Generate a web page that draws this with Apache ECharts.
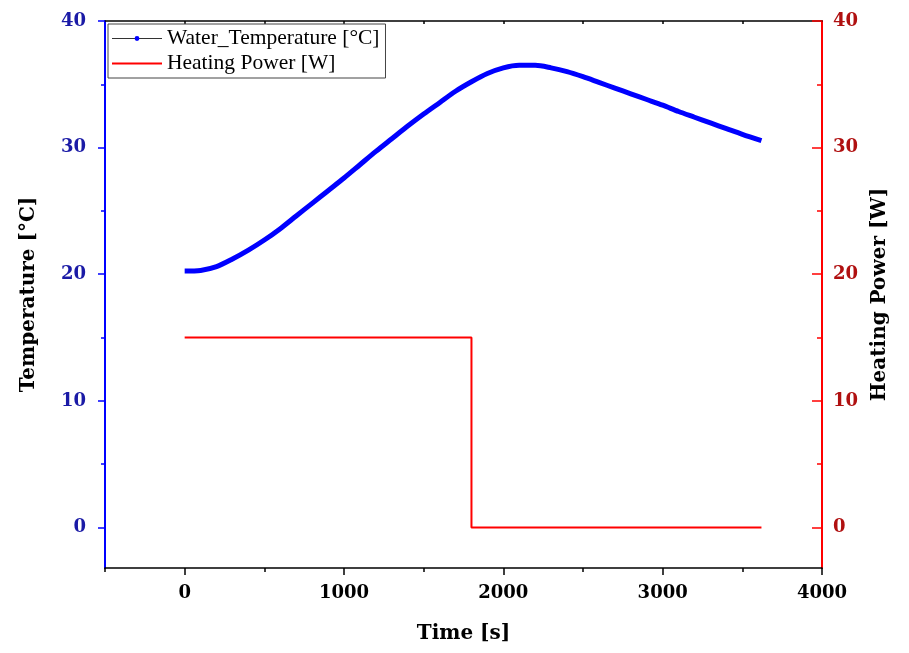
<!DOCTYPE html>
<html><head><meta charset="utf-8">
<script src="https://cdn.jsdelivr.net/npm/echarts@6/dist/echarts.min.js"></script>
<style>html,body{margin:0;padding:0;background:#fff}#c{width:909px;height:653px}</style>
</head><body><div id="c"></div>
<script>
const tempTime = [0,100,200,300,400,500,600,700,800,900,1000,1100,1200,1300,1400,1500,1600,1700,1800,1900,2000,2100,2200,2300,2400,2500,2600,2700,2800,2900,3000,3100,3200,3300,3400,3500,3620];
const tempValue = [20.25,20.3,20.6,21.2,21.9,22.7,23.6,24.6,25.6,26.6,27.6,28.65,29.7,30.7,31.7,32.65,33.55,34.45,35.2,35.85,36.3,36.5,36.5,36.3,36.0,35.6,35.15,34.7,34.25,33.8,33.35,32.85,32.4,31.95,31.5,31.05,30.55];
const powerTime = [0,1800,1800,3620];
const powerValue = [15,15,0,0];
const xMajor = [0,1000,2000,3000,4000];
const xMinor = [-500,500,1500,2500,3500];
const xTop = [0,500,1000,1500,2000,2500,3000,3500];
const yMajor = [0,10,20,30,40];
const yMinor = [5,15,25,35];

const serif = '"Liberation Serif","Times New Roman",serif';
const dserif = '"DejaVu Serif",serif';
const chart = echarts.init(document.getElementById('c'));
const blue = '#0000ff', red = '#ff0000';
const tickFont = {fontFamily: dserif, fontWeight: 'bold', fontSize: 18};
const nameFont = {fontFamily: dserif, fontWeight: 'bold', fontSize: 20, color: '#000'};
const plain = v => String(v);
chart.setOption({
  animation: false,
  grid: {left: 105, right: 87, top: 21, bottom: 85, containLabel: false},
  legend: {
    orient: 'vertical', left: 108, top: 24, right: 'auto', bottom: 'auto',
    itemWidth: 50, itemHeight: 6, itemGap: 2,
    padding: [3, 6, 3, 3],
    borderColor: '#444', borderWidth: 1, backgroundColor: '#fff',
    textStyle: {fontFamily: serif, fontSize: 21.5, color: '#000', lineHeight: 23},
    data: [
      {name: 'Water_Temperature [°C]', lineStyle: {color: '#333', width: 1}, itemStyle: {color: blue}},
      {name: 'Heating Power [W]', lineStyle: {color: red, width: 2}, itemStyle: {opacity: 0}}
    ]
  },
  xAxis: [
    {type: 'value', position: 'bottom', min: -500, max: 4000,
     axisLine: {show: true, onZero: false, lineStyle: {color: '#000', width: 1.5}},
     axisTick: {show: true, customValues: xMajor, length: 7, lineStyle: {color: '#000', width: 1.5}},
     axisLabel: {customValues: xMajor, formatter: plain, margin: 16, color: '#000', ...tickFont},
     splitLine: {show: false},
     name: 'Time [s]', nameLocation: 'middle', nameGap: 56, nameTextStyle: nameFont},
    {type: 'value', position: 'bottom', min: -500, max: 4000,
     axisLine: {show: false, onZero: false},
     axisTick: {show: true, customValues: xMinor, length: 4, lineStyle: {color: '#000', width: 1.5}},
     axisLabel: {show: false}, splitLine: {show: false}},
    {type: 'value', position: 'top', min: -500, max: 4000,
     axisLine: {show: true, onZero: false, lineStyle: {color: '#000', width: 1.5}},
     axisTick: {show: true, inside: true, customValues: xTop, length: 3, lineStyle: {color: '#000', width: 1.5}},
     axisLabel: {show: false}, splitLine: {show: false}}
  ],
  yAxis: [
    {type: 'value', position: 'left', min: -3.2, max: 40,
     axisLine: {show: true, onZero: false, lineStyle: {color: blue, width: 2}},
     axisTick: {show: true, customValues: yMajor, length: 7, lineStyle: {color: blue, width: 1.5}},
     axisLabel: {customValues: yMajor, formatter: plain, margin: 19, color: '#1a1aa6', ...tickFont},
     splitLine: {show: false},
     name: 'Temperature [°C]', nameLocation: 'middle', nameGap: 66, nameRotate: 90, nameTextStyle: nameFont},
    {type: 'value', position: 'left', min: -3.2, max: 40,
     axisLine: {show: false, onZero: false},
     axisTick: {show: true, customValues: yMinor, length: 4, lineStyle: {color: blue, width: 1.5}},
     axisLabel: {show: false}, splitLine: {show: false}},
    {type: 'value', position: 'right', min: -3.2, max: 40,
     axisLine: {show: true, onZero: false, lineStyle: {color: red, width: 2}},
     axisTick: {show: true, inside: true, customValues: yMajor, length: 10, lineStyle: {color: red, width: 1.5}},
     axisLabel: {customValues: yMajor, formatter: plain, margin: 11, color: '#b01010', ...tickFont},
     splitLine: {show: false},
     name: 'Heating Power [W]', nameLocation: 'middle', nameGap: 48, nameRotate: 90, nameTextStyle: nameFont},
    {type: 'value', position: 'right', min: -3.2, max: 40,
     axisLine: {show: false, onZero: false},
     axisTick: {show: true, inside: true, customValues: yMinor, length: 5, lineStyle: {color: red, width: 1.5}},
     axisLabel: {show: false}, splitLine: {show: false}}
  ],
  series: [
    {name: 'Water_Temperature [°C]', type: 'line', xAxisIndex: 0, yAxisIndex: 0,
     data: tempTime.map((t, i) => [t, tempValue[i]]),
     smooth: 0.3, symbol: 'circle', symbolSize: 5, showSymbol: false,
     itemStyle: {color: blue}, lineStyle: {color: blue, width: 5}},
    {name: 'Heating Power [W]', type: 'line', xAxisIndex: 0, yAxisIndex: 2,
     data: powerTime.map((t, i) => [t, powerValue[i]]),
     symbol: 'none', itemStyle: {color: red}, lineStyle: {color: red, width: 2}}
  ]
});
</script></body></html>
